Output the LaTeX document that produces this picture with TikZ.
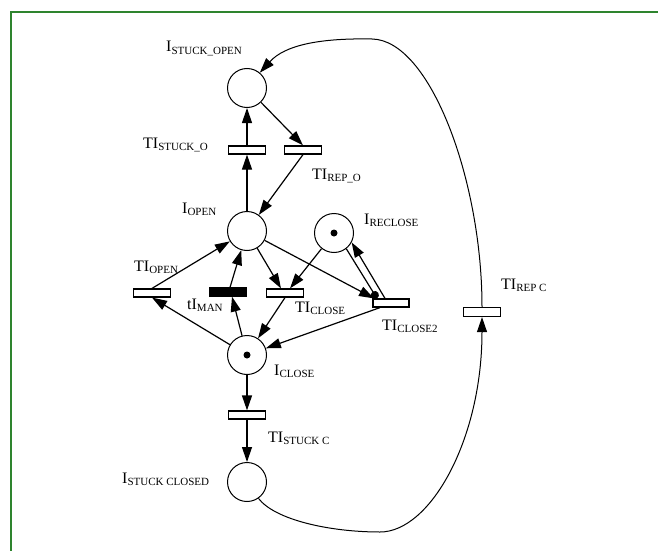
\documentclass[tikz,border=0pt]{standalone}
\usepackage{fontspec}
\setmainfont{Liberation Serif}
\usetikzlibrary{arrows.meta,calc}
\definecolor{framegreen}{RGB}{46,132,46}
\newcommand{\lb}[2]{#1\raisebox{-2.5pt}{\fontsize{11}{11}\selectfont #2}}
\begin{document}
\begin{tikzpicture}[x=1pt,y=-1pt,
 place/.style={circle,draw,line width=1pt,minimum size=39pt,inner sep=0pt},
 trans/.style={rectangle,draw,line width=1.2pt,minimum width=37pt,minimum height=8pt,inner sep=0pt,fill=white},
 btrans/.style={trans,fill=black},
 arc/.style={line width=1.2pt,-{Triangle[length=15pt,width=10pt]}},
 testarc/.style={line width=1.2pt,-{Circle[length=8pt]}},
 curvearc/.style={line width=1pt,-{Triangle[length=15pt,width=10pt]}},
 lbl/.style={anchor=base west,inner sep=0pt,font=\fontsize{16}{16}\selectfont},
 tok/.style={circle,fill=black,inner sep=0pt,minimum size=7pt}
]
\useasboundingbox (0,0) rectangle (658,551);
% frame
\draw[framegreen,line width=2pt] (11,551) -- (11,12) -- (658,12);

% places
\node[place] (pso) at (247,88) {};
\node[place] (po)  at (247,231) {};
\node[place] (pr)  at (334,233) {};
\node[place] (pc)  at (247,355) {};
\node[place] (pcs) at (247,482) {};
\node[tok] (prtok) at (pr.center) {};
\node[tok] (pctok) at (pc.center) {};

% transitions
\node[trans] (tso) at (247,150) {};
\node[trans] (tro) at (303,150) {};
\node[trans] (to)  at (152,293) {};
\node[btrans] (tm) at (228,292) {};
\node[trans] (tc)  at (285,293) {};
\node[trans,minimum width=36pt] (tc2) at (391,303) {};
\node[trans] (tsc) at (247,415) {};
\node[trans,minimum height=9pt] (trc) at (482,312) {};

% labels
\node[lbl] (l1) at (166,52) {\lb{I}{STUCK\_OPEN}};
\node[lbl] (l2) at (143,148) {\lb{TI}{STUCK\_O}};
\node[lbl] (l3) at (312,179) {\lb{TI}{REP\_O}};
\node[lbl] (l4) at (182,213) {\lb{I}{OPEN}};
\node[lbl] (l5) at (364,224) {\lb{I}{RECLOSE}};
\node[lbl] (l6) at (134,271) {\lb{TI}{OPEN}};
\node[lbl] (l7) at (187,309) {\lb{tI}{MAN}};
\node[lbl] (l8) at (295,312) {\lb{TI}{CLOSE}};
\node[lbl] (l9) at (382,330) {\lb{TI}{CLOSE2}};
\node[lbl] (l10) at (274,375) {\lb{I}{CLOSE}};
\node[lbl] (l11) at (268,442) {\lb{TI}{STUCK C}};
\node[lbl] (l12) at (122,483) {\lb{I}{STUCK CLOSED}};
\node[lbl] (l13) at (501,289) {\lb{TI}{REP C}};

% arcs
\draw[arc] (po) -- (tso);
\draw[arc] (tso) -- (pso);
\draw[arc] (pso) -- (tro.north);
\draw[arc] (tro.south) -- (po);
\draw[arc] (to.north) -- (po);
\draw[arc] (pc) -- (to.south);
\draw[arc] ([xshift=2pt]tm.north) -- (po);
\draw[arc] (pc) -- ([xshift=4pt]tm.south);
\draw[arc] (po) -- ([xshift=-4pt]tc.north);
\draw[arc] (pr) -- ([xshift=5pt]tc.north);
\draw[arc] (tc.south) -- (pc);
\draw[arc] (po) -- ([xshift=-17pt]tc2.north);
\draw[testarc] (pr.-52) -- ([xshift=-14pt]tc2.north);
\draw[arc] ([xshift=-6pt]tc2.north) -- (pr.-28);
\draw[arc] ([xshift=-11pt]tc2.south) -- (pc);
\draw[arc] (pc) -- (tsc);
\draw[arc] (tsc) -- (pcs);

% long repair loop
\draw[curvearc] (pcs.-55) .. controls (275,520) and (330,532) .. (380,532)
  .. controls (430,532) and (482,440) .. (trc.south);
\draw[curvearc] (trc.north) .. controls (482,180) and (430,40) .. (372,39)
  .. controls (320,38) and (285,45) .. (pso.50);
\end{tikzpicture}
\end{document}
